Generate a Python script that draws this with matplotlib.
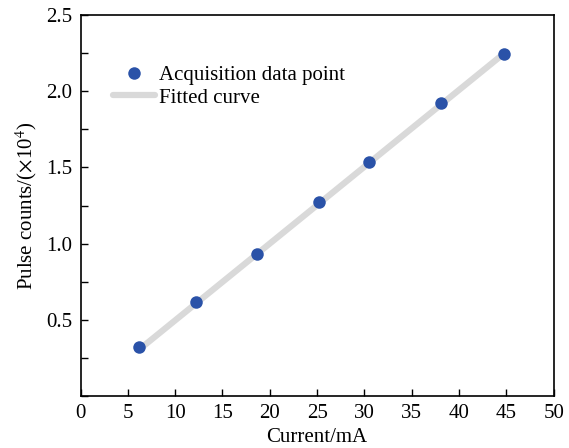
import numpy as np
import matplotlib
matplotlib.use("Agg")
from matplotlib import pyplot as plt
from matplotlib.ticker import MultipleLocator

# data
current = [6.2, 12.2, 18.6, 25.2, 30.5, 38.1, 44.8]
counts = [0.32, 0.62, 0.93, 1.27, 1.535, 1.92, 2.245]
fit_x = [6.2, 44.8]
fit_y = [0.305, 2.25]

xticks = [0, 5, 10, 15, 20, 25, 30, 35, 40, 45, 50]
yticks = [0.5, 1.0, 1.5, 2.0, 2.5]

plt.rcParams['font.family'] = ['Liberation Serif', 'DejaVu Serif']
plt.rcParams['mathtext.fontset'] = 'stix'

fig = plt.figure(figsize=(5.69, 4.48), dpi=100)
ax = fig.add_axes([0.1415, 0.116, 0.8315, 0.8505])

ax.plot(fit_x, fit_y, color='#d9d9d9', lw=4.5, solid_capstyle='round',
        label='Fitted curve', zorder=2)
ax.plot(current, counts, 'o', color='#2a52a8', ms=9, mec='none',
        label='Acquisition data point', zorder=3)

ax.set_xlim(0, 50)
ax.set_ylim(0, 2.5)
ax.set_xticks(xticks)
ax.set_xticklabels([str(t) for t in xticks])
ax.set_yticks(yticks)
ax.set_yticklabels(['%.1f' % t for t in yticks])
ax.yaxis.set_minor_locator(MultipleLocator(0.25))
ax.tick_params(direction='in', labelsize=15, length=5, width=1, pad=6)
ax.tick_params(axis='y', which='minor', direction='in', length=5, width=1)
for s in ax.spines.values():
    s.set_linewidth(1.2)

ax.set_xlabel('Current/mA', fontsize=15, labelpad=3)
ax.set_ylabel(r'Pulse counts/($\times$10$^4$)', fontsize=15, labelpad=5)

h, l = ax.get_legend_handles_labels()
ax.legend(h[::-1], l[::-1], loc='upper left', bbox_to_anchor=(0.052, 0.89),
          frameon=False, fontsize=15, handlelength=2.0, handletextpad=0.2,
          labelspacing=0.15, borderaxespad=0)

fig.savefig('out.png', dpi=100)
